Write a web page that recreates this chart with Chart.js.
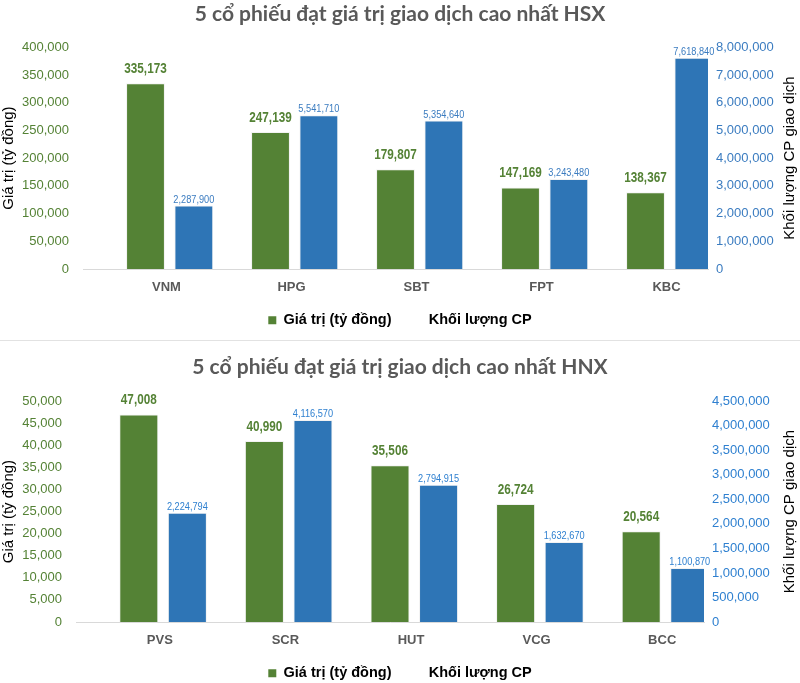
<!DOCTYPE html>
<html>
<head>
<meta charset="utf-8">
<script src="https://cdn.jsdelivr.net/npm/chart.js@4"></script>
<style>
  body { margin: 0; background: #fff; overflow: hidden; }
  #wrap { position: relative; width: 800px; height: 683px; overflow: hidden; }
  #hsx { position: absolute; left: 0; top: 0; }
  #hnx { position: absolute; left: 0; top: 341px; }
  #sep { position: absolute; left: 0; top: 340px; width: 800px; height: 1px; background: #e2e2e2; }
</style>
</head>
<body>
<div id="wrap">
  <canvas id="hsx" width="800" height="340"></canvas>
  <div id="sep"></div>
  <canvas id="hnx" width="800" height="352"></canvas>
</div>
<script>
// HSX
const hsxStocks = ['VNM', 'HPG', 'SBT', 'FPT', 'KBC'];
const hsxValue = [335173, 247139, 179807, 147169, 138367];
const hsxVolume = [2287900, 5541710, 5354640, 3243480, 7618840];

// HNX
const hnxStocks = ['PVS', 'SCR', 'HUT', 'VCG', 'BCC'];
const hnxValue = [47008, 40990, 35506, 26724, 20564];
const hnxVolume = [2224794, 4116570, 2794915, 1632670, 1100870];

const valueLabel = 'Giá trị (tỷ đồng)';
const volumeLabel = 'Khối lượng CP';
const rightTitle = 'Khối lượng CP giao dịch';

const green = '#548235';
const blue = '#2e75b6';
const fmt = (v) => Number(v).toLocaleString('en-US');

// value labels above the bars (squeezed to look like a narrow face)
const barLabels = {
  id: 'barLabels',
  afterDatasetsDraw(chart) {
    const ctx = chart.ctx;
    chart.data.datasets.forEach((ds, i) => {
      if (!ds.labelFont) return;
      const meta = chart.getDatasetMeta(i);
      meta.data.forEach((bar, j) => {
        ctx.save();
        ctx.translate(bar.x, bar.y - ds.labelGap);
        ctx.scale(ds.labelSqueeze, 1);
        ctx.font = ds.labelFont;
        ctx.fillStyle = ds.labelColor;
        ctx.textAlign = 'center';
        ctx.textBaseline = 'alphabetic';
        ctx.fillText(fmt(ds.data[j]), 0, 0);
        ctx.restore();
      });
    });
  }
};

// right axis title reads bottom-up like the left one
const sideTitle = {
  id: 'sideTitle',
  afterDraw(chart, args, opts) {
    const ctx = chart.ctx;
    const a = chart.chartArea;
    ctx.save();
    ctx.translate(opts.x, (a.top + a.bottom) / 2);
    ctx.rotate(-Math.PI / 2);
    ctx.font = '15px "Liberation Sans", Arial, sans-serif';
    ctx.fillStyle = '#000';
    ctx.textAlign = 'center';
    ctx.textBaseline = 'middle';
    ctx.fillText(opts.text, 0, 0);
    ctx.restore();
  }
};

function makeChart(id, cfg) {
  const ctx = document.getElementById(id).getContext('2d');
  return new Chart(ctx, {
    type: 'bar',
    data: {
      labels: cfg.stocks,
      datasets: [
        {
          label: 'spacer',
          data: cfg.stocks.map(() => null),
          yAxisID: 'y',
        },
        {
          label: valueLabel,
          data: cfg.values,
          backgroundColor: green,
          borderColor: '#f2f2f2',
          borderWidth: 1,
          yAxisID: 'y',
          labelFont: 'bold 14.5px "Liberation Sans", Arial, sans-serif',
          labelColor: green,
          labelGap: 10,
          labelSqueeze: 0.81,
        },
        {
          label: volumeLabel,
          data: cfg.volumes,
          backgroundColor: blue,
          borderColor: '#f2f2f2',
          borderWidth: 1,
          yAxisID: 'y1',
          labelFont: '11.5px "Liberation Sans", Arial, sans-serif',
          labelColor: cfg.blueText,
          labelGap: 3,
          labelSqueeze: 0.8,
        },
      ],
    },
    options: {
      responsive: false,
      animation: false,
      categoryPercentage: 1.16,
      barPercentage: 0.804,
      layout: { padding: { left: 0, right: 0, top: 0, bottom: 2.5 } },
      plugins: {
        title: {
          display: true,
          text: cfg.title,
          color: '#595959',
          font: { family: 'Lato, "Open Sans", sans-serif', size: 21, weight: 'bold' },
          padding: { top: cfg.titleTop, bottom: cfg.titleBottom },
        },
        legend: {
          position: 'bottom',
          labels: {
            boxWidth: 8,
            boxHeight: 8,
            padding: 22,
            color: '#000',
            font: { family: '"Liberation Sans", Arial, sans-serif', size: 14.5, weight: 'bold' },
            filter: (item) => item.text !== 'spacer',
            generateLabels: (chart) => {
              const items = Chart.defaults.plugins.legend.labels.generateLabels(chart);
              items.forEach((it) => {
                it.lineWidth = 0;
                if (it.text === volumeLabel) {
                  it.fillStyle = 'rgba(0,0,0,0)';
                  it.strokeStyle = 'rgba(0,0,0,0)';
                }
              });
              return items;
            },
          },
        },
        tooltip: { enabled: false },
        sideTitle: { text: rightTitle, x: 790 },
      },
      scales: {
        x: {
          grid: { display: false, drawTicks: false },
          border: { display: true, color: '#d9d9d9' },
          ticks: {
            color: '#595959',
            padding: 11,
            labelOffset: 21,
            font: { family: '"Liberation Sans", Arial, sans-serif', size: 13, weight: 'bold' },
          },
          afterFit: (s) => { s.height = 22; },
        },
        y: {
          position: 'left',
          min: 0,
          max: cfg.leftMax,
          grid: { display: false, drawTicks: false },
          border: { display: false },
          ticks: {
            stepSize: cfg.leftStep,
            color: green,
            padding: 14,
            font: { family: '"Liberation Sans", Arial, sans-serif', size: 13 },
            callback: (v) => fmt(v),
          },
          title: {
            display: true,
            text: valueLabel,
            color: '#000',
            padding: 0,
            font: { family: '"Liberation Sans", Arial, sans-serif', size: 15 },
          },
          afterFit: (s) => { s.width = cfg.leftWidth; },
        },
        y1: {
          position: 'right',
          min: 0,
          max: cfg.rightMax,
          grid: { display: false, drawTicks: false },
          border: { display: false },
          ticks: {
            stepSize: cfg.rightStep,
            color: cfg.blueText,
            padding: 8,
            font: { family: '"Liberation Sans", Arial, sans-serif', size: 13 },
            callback: (v) => fmt(v),
          },
          afterFit: (s) => { s.width = cfg.rightWidth; },
        },
      },
    },
    plugins: [barLabels, sideTitle],
  });
}

makeChart('hsx', {
  title: '5 cổ phiếu đạt giá trị giao dịch cao nhất HSX',
  stocks: hsxStocks,
  values: hsxValue,
  volumes: hsxVolume,
  leftMax: 400000,
  leftStep: 50000,
  rightMax: 8000000,
  rightStep: 1000000,
  leftWidth: 83,
  rightWidth: 92,
  titleTop: 2,
  titleBottom: 20,
  blueText: '#3b7cc0',
});

makeChart('hnx', {
  title: '5 cổ phiếu đạt giá trị giao dịch cao nhất HNX',
  stocks: hnxStocks,
  values: hnxValue,
  volumes: hnxVolume,
  leftMax: 50000,
  leftStep: 5000,
  rightMax: 4500000,
  rightStep: 500000,
  leftWidth: 76,
  rightWidth: 96,
  titleTop: 14,
  titleBottom: 21,
  blueText: '#2f80d0',
});
</script>
</body>
</html>
